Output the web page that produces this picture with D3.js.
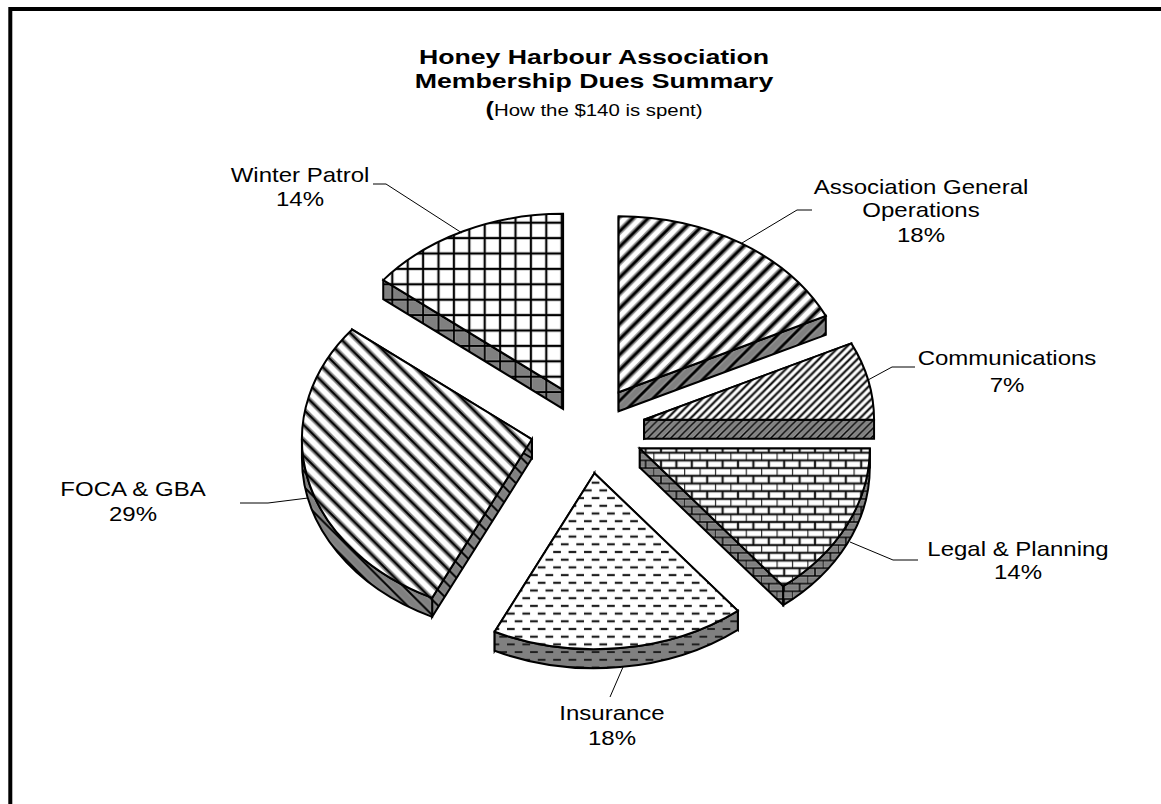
<!DOCTYPE html>
<html lang="en">
  <head>
    <meta charset="utf-8" />
    <title>Honey Harbour Association Dues</title>
    <script src="https://d3js.org/d3.v7.min.js"></script>
    <style>
      body {
        margin: 0;
        background-color: #ffffff;
      }
      svg {
        display: block;
      }
      text {
        font-family: "Liberation Sans", Arial, sans-serif;
        fill: #000;
      }
    </style>
  </head>

  <body>
    <div id="my_dataviz"></div>

    <script>
      // dollars out of the $140
      const categories = [
        "Association General Operations",
        "Communications",
        "Legal & Planning",
        "Insurance",
        "FOCA & GBA",
        "Winter Patrol",
      ];
      const dues = [25, 10, 20, 25, 40, 20];
      const percentLabels = ["18%", "7%", "14%", "18%", "29%", "14%"];
      const hatchNames = ["wideUp", "fineUp", "brick", "dash", "wideDown", "grid"];
      const titleLines = ["Honey Harbour Association", "Membership Dues Summary"];
      const subtitle = "How the $140 is spent)";

      const width = 1161,
        height = 804,
        cx = 588,
        cy = 429.5,
        rx = 230,
        ry = 176,
        depth = 19,
        explode = 0.25,
        wallGrey = "#808080";

      const svg = d3
        .select("#my_dataviz")
        .append("svg")
        .attr("width", width)
        .attr("height", height);

      const defs = svg.append("defs");

      function addPattern(id, w, h, ox, oy, draw) {
        const p = defs
          .append("pattern")
          .attr("id", id)
          .attr("patternUnits", "userSpaceOnUse")
          .attr("width", w)
          .attr("height", h)
          .attr("x", ox)
          .attr("y", oy);
        draw(p);
      }

      // soft grey halo under a black stroke, the source hatching is blurry
      function soft(p, d, black, halo, haloColor) {
        p.append("path")
          .attr("d", d)
          .attr("fill", "none")
          .attr("stroke", haloColor || "#9a9a9a")
          .attr("stroke-width", halo);
        p.append("path")
          .attr("d", d)
          .attr("fill", "none")
          .attr("stroke", "#000")
          .attr("stroke-width", black);
      }

      function diagonal(t, up) {
        return up
          ? `M${-t},${t}L${t},${-t}M0,${t}L${t},0M0,${2 * t}L${2 * t},0`
          : `M${-t},0L${t},${2 * t}M0,0L${t},${t}M0,${-t}L${2 * t},${t}`;
      }

      const T = 15.4;
      addPattern("wideUp", T, T, 0, 4, (p) => soft(p, diagonal(T, true), 2.8, 6, "#8f8f8f"));
      addPattern("wideDown", T, T, 0, 13.5, (p) => soft(p, diagonal(T, false), 2, 5.4, "#8a8a8a"));
      addPattern("fineUp", T / 2, T / 2, 0, 0, (p) =>
        soft(p, diagonal(T / 2, true), 1.5, 3)
      );
      addPattern("brick", T, T, 6.5, 6.1, (p) =>
        soft(
          p,
          `M0,0H${T}M0,${T / 2}H${T}M0,${T}H${T}M0,0V${T / 2}M${T / 2},${T / 2}V${T}`,
          1.5,
          2.8
        )
      );
      addPattern("dash", T, T, 6.5, 5.3, (p) =>
        soft(p, `M0,0H${T / 2}M${T / 2},${T / 2}H${T}M0,${T}H${T / 2}`, 1.5, 2.6, "#777")
      );
      addPattern("grid", T, T, 7.3, 7.1, (p) =>
        soft(p, `M0,0H${T}M0,${T}H${T}M0,0V${T}M${T},0V${T}`, 1.8, 2.8)
      );

      // unit circle -> squashed pie on the page
      const x = d3.scaleLinear().domain([-1, 1]).range([cx - rx, cx + rx]);
      const y = d3.scaleLinear().domain([-1, 1]).range([cy + ry, cy - ry]);

      const pie = d3.pie().sort(null).value((d) => d.value);
      const slices = pie(
        dues.map((value, i) => ({ value, name: categories[i], hatch: hatchNames[i] }))
      );

      function facePoints(s) {
        const mid = (s.startAngle + s.endAngle) / 2;
        const ax = explode * Math.sin(mid),
          ay = explode * Math.cos(mid);
        const at = (a) => [x(ax + Math.sin(a)), y(ay + Math.cos(a))];
        return { apex: [x(ax), y(ay)], at };
      }

      function arcTo(p, large, sweep) {
        return `A${rx},${ry} 0 ${large} ${sweep} ${p[0]},${p[1]}`;
      }

      function drawFace(g, d, hatch, base) {
        g.append("path").attr("d", d).attr("fill", base);
        g.append("path")
          .attr("d", d)
          .attr("fill", `url(#${hatch})`)
          .attr("stroke", "#000")
          .attr("stroke-width", 2)
          .attr("stroke-linejoin", "miter");
      }

      const slice = svg
        .selectAll("g.slice")
        .data(slices)
        .enter()
        .append("g")
        .attr("class", "slice");

      slice.each(function (s) {
        const g = d3.select(this);
        const { apex, at } = facePoints(s);
        const p0 = at(s.startAngle),
          p1 = at(s.endAngle);
        const down = (p) => [p[0], p[1] + depth];
        const hatch = s.data.hatch;

        // radial walls
        [p0, p1].forEach((p) => {
          const wall = `M${apex}L${p}L${down(p)}L${down(apex)}Z`;
          drawFace(g, wall, hatch, wallGrey);
        });

        // outer wall, only the front half of the rim shows
        const a0 = Math.max(s.startAngle, Math.PI / 2),
          a1 = Math.min(s.endAngle, (3 * Math.PI) / 2);
        if (a1 > a0) {
          const q0 = at(a0),
            q1 = at(a1);
          const large = a1 - a0 > Math.PI ? 1 : 0;
          const rim = `M${q0}${arcTo(q1, large, 1)}L${down(q1)}${arcTo(down(q0), large, 0)}Z`;
          drawFace(g, rim, hatch, wallGrey);
        }

        // top face
        const large = s.endAngle - s.startAngle > Math.PI ? 1 : 0;
        const face = `M${apex}L${p0}${arcTo(p1, large, 1)}Z`;
        drawFace(g, face, hatch, "#fff");
      });

      // the source picture is wider than it is tall, so text gets a horizontal stretch
      function putText(parent, str, tx, ty, size, bold, stretch) {
        return parent
          .append("text")
          .attr("transform", `translate(${tx},${ty}) scale(${stretch},1)`)
          .attr("text-anchor", "middle")
          .style("font-size", size + "px")
          .style("font-weight", bold ? "bold" : "normal")
          .text(str);
      }

      // Title
      const titleX = 594;
      putText(svg, titleLines[0], titleX, 64, 21, true, 1.27);
      putText(svg, titleLines[1], titleX, 88, 21, true, 1.27);
      const sub = svg
        .append("text")
        .attr("transform", `translate(${titleX},116) scale(1.2,1)`)
        .attr("text-anchor", "middle")
        .style("font-size", "17px");
      sub
        .append("tspan")
        .style("font-weight", "bold")
        .style("font-size", "21px")
        .text("(");
      sub.append("tspan").text(subtitle);

      // labels and their leader lines, in category order
      const labelBlocks = [
        { x: 921, ys: [194, 217, 242], lines: ["Association General", "Operations"], leader: [[742, 243], [797, 210], [812, 210]] },
        { x: 1007, ys: [365, 392], lines: ["Communications"], leader: [[868, 380], [892, 367], [915, 367]] },
        { x: 1018, ys: [556, 579], lines: ["Legal & Planning"], leader: [[850, 542], [893, 560], [918, 560]] },
        { x: 612, ys: [720, 745], lines: ["Insurance"], leader: [[623, 667], [610, 697]] },
        { x: 133, ys: [496, 521], lines: ["FOCA & GBA"], leader: [[308, 498], [268, 503], [240, 503]] },
        { x: 300, ys: [182, 206], lines: ["Winter Patrol"], leader: [[462, 233], [386, 184], [373, 184]] },
      ];

      labelBlocks.forEach((b, i) => {
        svg
          .append("path")
          .attr("d", d3.line()(b.leader))
          .attr("fill", "none")
          .attr("stroke", "#000")
          .attr("stroke-width", 1);
        b.lines.concat(percentLabels[i]).forEach((str, k) => {
          putText(svg, str, b.x, b.ys[k], 20, false, 1.2);
        });
      });

      // frame, only the top and left edges are in the picture
      svg
        .append("path")
        .attr("d", `M${width},9H10.3V${height}`)
        .attr("fill", "none")
        .attr("stroke", "#000")
        .attr("stroke-width", 4);
    </script>
  </body>
</html>
